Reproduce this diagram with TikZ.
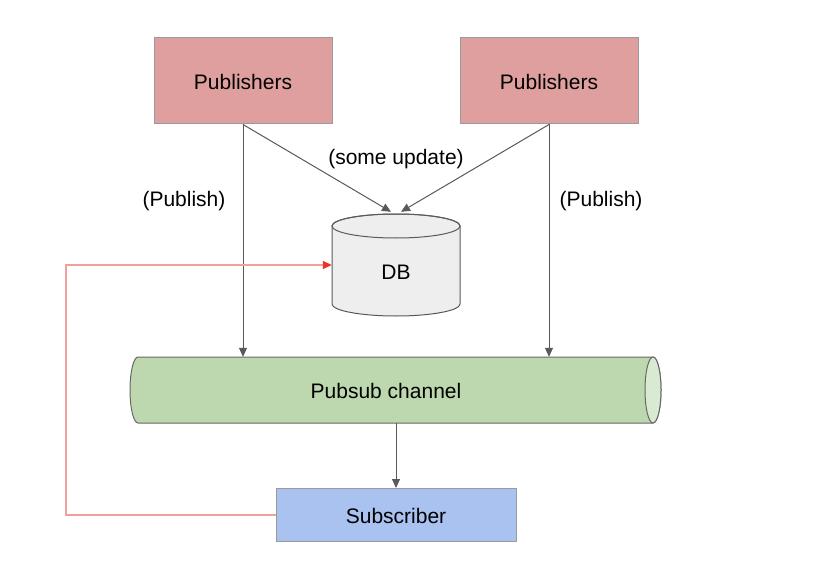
\documentclass[tikz,border=0pt]{standalone}
\usepackage{fontspec}
\setmainfont{Liberation Sans}
\usetikzlibrary{arrows.meta,calc}
\definecolor{pubred}{HTML}{E09F9F}
\definecolor{boxline}{HTML}{9A9A9A}
\definecolor{arrowgray}{HTML}{595959}
\definecolor{chgreen}{HTML}{BDD7AE}
\definecolor{chlight}{HTML}{D9EAD3}
\definecolor{chline}{HTML}{666666}
\definecolor{dbfill}{HTML}{EEEEEE}
\definecolor{subblue}{HTML}{A9C2F0}
\definecolor{redline}{HTML}{F4A09A}
\definecolor{redtip}{HTML}{E8352D}
\tikzset{
  pubbox/.style={draw=boxline, line width=1pt, fill=pubred, minimum width=178pt, minimum height=86pt, inner sep=0pt},
  subbox/.style={draw=boxline, line width=1pt, fill=subblue, minimum width=240pt, minimum height=53pt, inner sep=0pt},
  ghost/.style={inner sep=0pt},
  flow/.style={draw=arrowgray, line width=1pt, -{Triangle[length=9pt,width=8pt]}},
  feedback/.style={draw=redline, line width=1.4pt, -{Triangle[length=9pt,width=8pt,color=redtip]}},
  lbl/.style={inner sep=0pt},
  txt/.style={inner sep=0pt}
}
\begin{document}
\begin{tikzpicture}[x=1pt,y=1pt,font=\fontsize{21}{25}\selectfont]
\useasboundingbox (0,0) rectangle (816,-572);
% publishers
\node[pubbox] (p1) at (243,-81) {};
\node[pubbox] (p2) at (549,-81) {};
\node[txt] (p1t) at (243,-82) {Publishers};
\node[txt] (p2t) at (549,-82) {Publishers};
% DB cylinder
\path[draw=arrowgray, line width=1pt, fill=dbfill] (332,-226) -- (332,-304)
  arc[start angle=180, end angle=360, x radius=64, y radius=12] -- (460,-226)
  arc[start angle=0, end angle=180, x radius=64, y radius=12] -- cycle;
\draw[arrowgray, line width=1pt] (396,-226) ellipse[x radius=64, y radius=12];
\node[ghost, minimum width=128pt, minimum height=102pt] (db) at (396,-265) {};
\node[lbl] (dblabel) at (396,-272) {DB};
% channel
\path[draw=chline, line width=1pt, fill=chgreen] (653,-357) -- (138,-357)
  arc[start angle=90, end angle=270, x radius=8, y radius=33] -- (653,-423)
  arc[start angle=-90, end angle=90, x radius=8, y radius=33] -- cycle;
\draw[chline, line width=1pt, fill=chlight] (653,-390) ellipse[x radius=8, y radius=33];
\node[ghost, minimum width=531pt, minimum height=66pt] (ch) at (395.5,-390) {};
\node[lbl] (chlabel) at (386,-391) {Pubsub channel};
% subscriber
\node[subbox] (sub) at (396,-515) {};
\node[txt] (subt) at (396,-516) {Subscriber};
% connectors
\draw[flow] (p1.south) -- (p1.south |- ch.north);
\draw[flow] (p2.south) -- (p2.south |- ch.north);
\draw[flow] (p1.south) -- ($(db.north)+(-5,2)$);
\draw[flow] (p2.south) -- ($(db.north)+(5,2)$);
\draw[flow] (ch.south -| sub.north) -- (sub.north);
\coordinate (loop) at (66,-265);
\draw[feedback] (sub.west) -| (loop) -- (db.west);
% labels
\node[lbl] (l1) at (184,-201.5) {(Publish)};
\node[lbl] (l2) at (396,-159.5) {(some update)};
\node[lbl] (l3) at (601,-201.5) {(Publish)};
\end{tikzpicture}
\end{document}
